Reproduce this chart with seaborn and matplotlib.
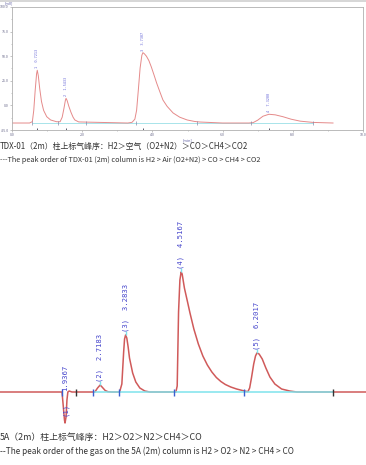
import matplotlib
matplotlib.use('Agg')
import matplotlib.pyplot as plt
from matplotlib.ticker import MultipleLocator
import seaborn as sns

# ---- TDX-01 chromatogram (top) ----
tdx_time = [0.0, 0.50, 0.58, 0.62, 0.66, 0.70, 0.72, 0.75, 0.79, 0.84, 0.90, 0.99, 1.10, 1.27,
            1.37, 1.43, 1.48, 1.52, 1.54, 1.57, 1.62, 1.68, 1.74, 1.79, 1.90,
            3.30, 3.42, 3.50, 3.55, 3.60, 3.65, 3.70, 3.73, 3.77, 3.83, 3.90, 3.97, 4.05,
            4.12, 4.20, 4.30, 4.42, 4.59, 4.78, 4.99, 5.20, 5.36, 6.00,
            6.75, 6.87, 7.00, 7.15, 7.32, 7.50, 7.72, 7.95, 8.21, 8.58, 9.15]
tdx_signal = [-17.9, -17.9, -16.5, -5.0, 15.0, 32.0, 35.7, 30.0, 17.0, 4.0, -5.0, -11.5, -14.8, -16.6,
              -16.6, -12.0, -3.0, 5.0, 7.2, 5.0, -1.0, -7.0, -12.0, -14.8, -16.8,
              -17.9, -17.2, -14.0, -5.0, 16.0, 38.0, 51.0, 53.6, 52.5, 50.0, 45.5, 39.0, 30.5,
              22.8, 15.0, 5.5, -1.0, -7.7, -12.0, -14.8, -16.3, -16.9, -17.9,
              -17.9, -17.5, -15.0, -11.0, -9.0, -9.6, -11.5, -14.0, -16.0, -17.3, -17.9]
tdx_peak_time = [0.72, 1.54, 3.73, 7.32]
tdx_peak_height = [35.7, 7.2, 53.6, -9.0]
tdx_peak_label = ['1  0.7213', '2  1.5433', '3  3.7307', '4  7.3200']
tdx_marks = [0.58, 1.32, 2.11, 3.52, 5.28, 6.80, 8.58]
tdx_baseline = [0.58, 8.58]

# ---- 5A chromatogram (bottom) ----
sa_time = [0.49, 1.83, 1.87, 1.89, 1.925, 1.937, 1.96, 1.98, 2.00, 2.03, 2.09,
           2.60, 2.66, 2.718, 2.76, 2.83, 2.89, 2.98,
           3.15, 3.20, 3.24, 3.26, 3.283, 3.31, 3.34, 3.37, 3.44, 3.51, 3.60, 3.71, 3.82,
           4.40, 4.43, 4.46, 4.49, 4.517, 4.54, 4.59, 4.66, 4.714, 4.80, 4.90, 5.00,
           5.10, 5.20, 5.30, 5.40, 5.50, 5.62, 5.75, 5.88, 6.00,
           6.04, 6.08, 6.13, 6.17, 6.2017, 6.25, 6.32, 6.40, 6.49, 6.60, 6.75, 6.93, 7.09, 8.63]
sa_signal = [0, 0, 0, -10, -28, -31, -25, -8, 0, 1, 0,
             0, 4, 7, 5, 1.5, 0.3, 0,
             0, 8, 40, 53, 57, 54, 45, 34, 19, 10, 4, 1, 0,
             0, 6, 80, 112, 120, 118, 104, 90, 79, 63, 48, 36,
             27, 20, 14.5, 10.5, 7.5, 5, 3, 1.5, 0.3,
             4, 14, 28, 36, 39, 38, 33, 24, 15, 8, 3, 1, 0, 0]
sa_peak_time = [1.9367, 2.7183, 3.2833, 4.5167, 6.2017]
sa_peak_height = [-31, 7, 57, 120, 39]
sa_peak_num = ['(1)', '(2)', '(3)', '(4)', '(5)']
sa_start_marks = [1.87, 2.56, 3.14, 4.36, 5.91]
sa_end_marks = [2.18, 7.89]
sa_baseline = [2.56, 7.89]

captions = [
    'TDX-01（2m）柱上标气峰序：H2＞空气（O2+N2）＞CO＞CH4＞CO2',
    '---The peak order of TDX-01 (2m) column is H2 > Air (O2+N2) > CO > CH4 > CO2',
    '5A（2m）柱上标气峰序：H2＞O2＞N2＞CH4＞CO',
    '--The peak order of the gas on the 5A (2m) column is H2 > O2 > N2 > CH4 > CO',
]
caption_size = [5.7, 5.26, 6.4, 5.95]

sns.set_style('white')
plt.rcParams['font.family'] = ['Noto Sans CJK SC', 'DejaVu Sans']

W, H = 366, 465
fig = plt.figure(figsize=(W / 100, H / 100), dpi=100)

# ---------------- top chart ----------------
ax1 = fig.add_axes([12 / W, 1 - 130 / H, 351 / W, 123 / H])
ax1.hlines(-17.5, tdx_baseline[0], tdx_baseline[1], color='#a8e4ea', lw=0.7)
sns.lineplot(x=tdx_time, y=tdx_signal, ax=ax1, color='#e58a8a', lw=0.7, sort=False)
ax1.vlines(tdx_marks, -19.5, -15.5, color='#8a8aa8', lw=0.5)
ax1.vlines(tdx_peak_time, -25, -22.5, color='#555566', lw=0.7)
for t, h, lab in zip(tdx_peak_time, tdx_peak_height, tdx_peak_label):
    ax1.text(t, h + 2, lab, rotation=90, ha='center', va='bottom',
             fontsize=2.6, color='#6a6ad8', family='DejaVu Sans Mono')
ax1.set_xlim(0, 10)
ax1.set_ylim(-25, 100)
ax1.xaxis.set_major_locator(MultipleLocator(2))
ax1.xaxis.set_minor_locator(MultipleLocator(1))
ax1.yaxis.set_major_locator(MultipleLocator(25))
ax1.yaxis.set_minor_locator(MultipleLocator(12.5))
ax1.xaxis.set_major_formatter(lambda v, p: f'{v:.1f}')
ax1.yaxis.set_major_formatter(lambda v, p: f'{v:.1f}')
ax1.tick_params(which='both', length=1.5, width=0.4, color='#999999',
                labelsize=2.6, labelcolor='#666688', pad=1,
                bottom=True, left=True)
ax1.tick_params(which='minor', length=1)
for s in ax1.spines.values():
    s.set_color('#b0b0b0')
    s.set_linewidth(0.6)
ax1.set_xlabel('[min]', fontsize=2.8, color='#5a5aa0', labelpad=0.5)
ax1.set_ylabel('')
ax1.text(-0.01, 1.01, '[mV]', transform=ax1.transAxes, fontsize=2.8,
         color='#5a5aa0', ha='center', va='bottom')
fig.add_artist(plt.Line2D([0, 1], [1 - 1 / H, 1 - 1 / H], color='#d0d0d0', lw=1.2))

# ---------------- bottom chart ----------------
t0 = 0.4922
ax2 = fig.add_axes([0, 1 - 440 / H, 1, 240 / H])
ax2.set_xlim(t0, t0 + W / 45)
ax2.set_ylim(-48, 192)
ax2.axis('off')
sns.lineplot(x=sa_time, y=sa_signal, ax=ax2, color='#d05a5a', lw=1.1, sort=False)
ax2.hlines(0, sa_baseline[0], sa_baseline[1], color='#7fe3ec', lw=1.1)
ax2.vlines(sa_start_marks, -3.5, 3.5, color='#3a5fd0', lw=1.0)
ax2.vlines(sa_end_marks, -3.5, 3.5, color='#333333', lw=1.0)
for t, h, num in zip(sa_peak_time, sa_peak_height, sa_peak_num):
    if h < 0:
        ax2.text(t, 1, f'{t:.4f}', rotation=90, ha='center', va='bottom',
                 fontsize=5.2, color='#4646cc', family='DejaVu Sans Mono')
        ax2.text(t, -11, num, rotation=90, ha='center', va='top',
                 fontsize=5.2, color='#4646cc', family='DejaVu Sans Mono')
        continue
    ax2.vlines(t, h + 0.5, h + 4, color='#7fe3ec', lw=1.0)
    ax2.text(t, h + 3.5, f'{num}  {t:.4f}', rotation=90, ha='center', va='bottom',
             fontsize=5.2, color='#4646cc', family='DejaVu Sans Mono')

# ---------------- captions ----------------
cap_y = [146, 160, 437, 451]
for txt, y, fs in zip(captions, cap_y, caption_size):
    fig.text(0, 1 - y / H, txt, fontsize=fs, color='#333333',
             ha='left', va='center')

fig.savefig('out.png', dpi=100, facecolor='white')
